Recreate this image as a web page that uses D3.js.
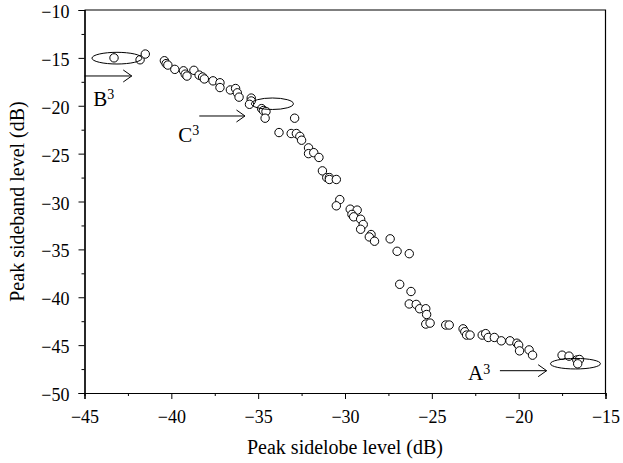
<!DOCTYPE html>
<html>
<head>
<meta charset="utf-8">
<script src="https://cdn.jsdelivr.net/npm/d3@7"></script>
<style>
  body { margin: 0; background: #fff; }
  svg text { font-family: "Liberation Serif", "DejaVu Serif", serif; fill: #000; }
</style>
</head>
<body>
<div class="chart"></div>
<script>
/* Data
============================================= */
// peak sidelobe level (dB)
const psl = [
    -43.3, -41.8, -41.5, -40.4, -40.3, -40.2, -39.8, -39.3, -39.2, -39.1,
    -38.7, -38.4, -38.2, -38.1, -37.6, -37.2, -37.2, -36.6, -36.3, -36.2,
    -36.1, -35.4, -35.4, -35.5, -34.8, -34.7, -34.55, -34.6, -32.9, -33.8,
    -33.1, -32.8, -32.6, -32.5, -32.1, -32.1, -31.8, -31.5, -31.3, -31.05,
    -30.9, -30.9, -30.5, -30.3, -30.5, -29.7, -29.3, -29.6, -29.5, -29.1,
    -28.95, -29.1, -28.5, -28.6, -28.3, -27.4, -27.0, -26.3, -26.85, -26.2,
    -26.3, -25.9, -25.7, -25.35, -25.3, -25.35, -25.1, -24.2, -24.0, -23.2,
    -23.1, -23.0, -22.8, -22.1, -21.9, -21.75, -21.4, -21.0, -20.5, -20.1,
    -20.0, -19.95, -19.4, -19.2, -17.5, -17.1, -16.65, -16.5, -16.6
];
// peak sideband level (dB)
const psbl = [
    -15.0, -15.2, -14.6, -15.3, -15.6, -15.75, -16.2, -16.35, -16.7, -16.9,
    -16.3, -16.8, -17.0, -17.2, -17.4, -17.6, -18.1, -18.35, -18.2, -18.65,
    -19.1, -19.2, -19.5, -19.85, -20.3, -20.5, -20.6, -21.3, -21.3, -22.8,
    -22.9, -22.9, -23.2, -23.6, -24.4, -25.0, -24.9, -25.4, -26.8, -27.5,
    -27.5, -27.7, -27.7, -29.8, -30.45, -30.8, -30.9, -31.35, -31.6, -31.85,
    -32.4, -32.9, -33.45, -33.7, -34.15, -33.9, -35.2, -35.45, -38.65, -39.4,
    -40.7, -40.75, -41.2, -41.2, -41.8, -42.8, -42.7, -42.9, -42.9, -43.3,
    -43.6, -43.95, -43.95, -43.95, -43.8, -44.2, -44.2, -44.55, -44.55, -44.8,
    -45.0, -45.6, -45.5, -46.05, -46.05, -46.15, -46.55, -46.5, -46.95
];

const xTicks = [-45, -40, -35, -30, -25, -20, -15];
const yTicks = [-10, -15, -20, -25, -30, -35, -40, -45, -50];

// annotations: ellipse centre/radii, arrow x-range and y, label position (all in data units)
const notes = [
    { label: "B", ex: -43.13, ey: -15.03, erx: 1.44, ery: 0.61, ax0: -45,    ax1: -42.28, ay: -16.89, tx: -44.5,  ty: -20.0 },
    { label: "C", ex: -34.18, ey: -19.79, erx: 1.21, ery: 0.6,  ax0: -38.39, ax1: -35.76, ay: -21.07, tx: -39.6,  ty: -23.75 },
    { label: "A", ex: -16.73, ey: -46.94, erx: 1.44, ery: 0.55, ax0: -21.08, ax1: -18.39, ay: -47.67, tx: -22.92, ty: -48.64 }
];

/* Setup
============================================= */
const SVG_WIDTH = 623;
const SVG_HEIGHT = 463;

var margin = { top: 10, bottom: 70, left: 84.5, right: 17.5 };
var width = SVG_WIDTH - margin.left - margin.right;
var height = SVG_HEIGHT - margin.top - margin.bottom;

var svg = d3.select(".chart")
    .append("svg")
    .attr("width", SVG_WIDTH)
    .attr("height", SVG_HEIGHT)
    .append("g")
    .attr("transform", `translate(${margin.left}, ${margin.top})`);

var xLinearScale = d3.scaleLinear().domain([-45, -15]).range([0, width]);
var yLinearScale = d3.scaleLinear().domain([-50, -10]).range([height, 0]);

// frame (top + right)
svg.append("path")
    .attr("d", `M0,0H${width}V${height}`)
    .attr("fill", "none")
    .attr("stroke", "#000")
    .attr("stroke-width", 1.2);

// minor ticks
svg.append("g")
    .attr("transform", `translate(0, ${height})`)
    .call(d3.axisBottom(xLinearScale).tickValues(d3.range(-42.5, -15, 5)).tickSize(3).tickFormat(""));
svg.append("g")
    .call(d3.axisLeft(yLinearScale).tickValues(d3.range(-47.5, -10, 5)).tickSize(3).tickFormat(""));

// major axes
var xAxis = svg.append("g")
    .attr("transform", `translate(0, ${height})`)
    .call(d3.axisBottom(xLinearScale).tickValues(xTicks).tickSize(6).tickPadding(3));
var yAxis = svg.append("g")
    .call(d3.axisLeft(yLinearScale).tickValues(yTicks).tickSize(6).tickPadding(9));

svg.selectAll(".domain").attr("stroke-width", 1.2);
svg.selectAll(".tick line").attr("stroke-width", 1);
xAxis.selectAll("text").style("font-size", "18px").attr("dy", "1.17em");
yAxis.selectAll("text").style("font-size", "18px").attr("dy", "0.42em");

// axis labels
svg.append("text")
    .attr("x", width / 2)
    .attr("y", height + 61)
    .attr("text-anchor", "middle")
    .style("font-size", "20px")
    .text("Peak sidelobe level (dB)");

svg.append("text")
    .attr("transform", "rotate(-90)")
    .attr("x", -height / 2)
    .attr("y", -60.5)
    .attr("text-anchor", "middle")
    .style("font-size", "20px")
    .text("Peak sideband level (dB)");

// data points
svg.append("g")
    .selectAll("circle")
    .data(psl)
    .enter()
    .append("circle")
    .attr("cx", function(d) { return xLinearScale(d); })
    .attr("cy", function(d, i) { return yLinearScale(psbl[i]); })
    .attr("r", 4.2)
    .attr("fill", "#fff")
    .attr("stroke", "#000")
    .attr("stroke-width", 1);

// annotations
var noteGroup = svg.append("g");
notes.forEach(function(n) {
    noteGroup.append("ellipse")
        .attr("cx", xLinearScale(n.ex))
        .attr("cy", yLinearScale(n.ey))
        .attr("rx", xLinearScale(n.ex + n.erx) - xLinearScale(n.ex))
        .attr("ry", yLinearScale(n.ey - n.ery) - yLinearScale(n.ey))
        .attr("fill", "none")
        .attr("stroke", "#000")
        .attr("stroke-width", 1);

    var x0 = xLinearScale(n.ax0), x1 = xLinearScale(n.ax1), y = yLinearScale(n.ay);
    noteGroup.append("path")
        .attr("d", `M${x0},${y}H${x1}M${x1 - 8.5},${y - 6}L${x1},${y}L${x1 - 8.5},${y + 6}`)
        .attr("fill", "none")
        .attr("stroke", "#000")
        .attr("stroke-width", 1);

    var t = noteGroup.append("text")
        .attr("x", xLinearScale(n.tx))
        .attr("y", yLinearScale(n.ty))
        .style("font-size", "21px");
    t.append("tspan").text(n.label);
    t.append("tspan").attr("dy", "-0.45em").style("font-size", "14px").text("3");
});
</script>
</body>
</html>
